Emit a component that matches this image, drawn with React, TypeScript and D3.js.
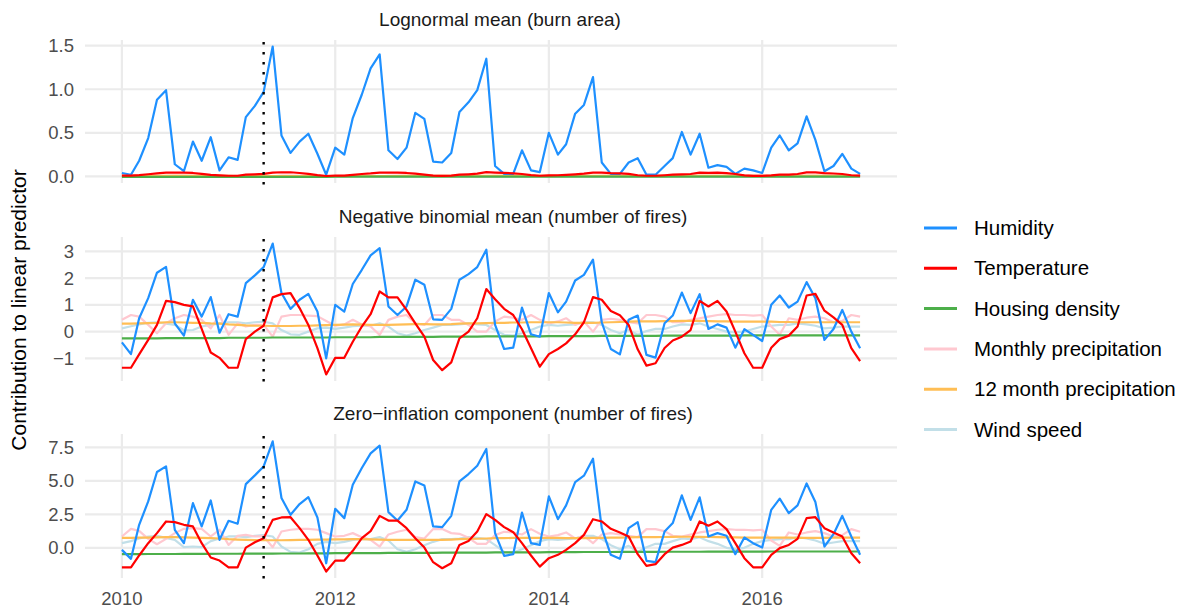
import React from "react";
import * as d3 from "d3";

const W = 1187;
const H = 608;

const START = new Date(2010, 0, 1);
const END = new Date(2017, 0, 1);
const MONTHS = d3.timeMonth.range(START, END); // 84 monthly points
const EVENT_MONTH = new Date(2011, 4, 1);
const X_TICKS = [2010, 2012, 2014, 2016];

const TITLES = [
  "Lognormal mean (burn area)",
  "Negative binomial mean (number of fires)",
  "Zero\u2212inflation component (number of fires)",
];
const Y_TITLE = "Contribution to linear predictor";
const SERIES_NAMES = [
  "Humidity",
  "Temperature",
  "Housing density",
  "Monthly precipitation",
  "12 month precipitation",
  "Wind speed",
];
const SERIES_COLORS = ["#1E90FF", "#FF0000", "#4DAF4A", "#FFC8D0", "#FFBE55", "#C2DFE8"];

// ---------- Panel 1: lognormal mean ----------
const humidityBurn = [
  0.04, 0.02, 0.18, 0.44, 0.88, 0.99, 0.14, 0.06, 0.4, 0.18, 0.45, 0.07,
  0.22, 0.19, 0.68, 0.81, 0.97, 1.49, 0.47, 0.27, 0.4, 0.49, 0.26, 0.02,
  0.33, 0.25, 0.67, 0.94, 1.24, 1.4, 0.3, 0.2, 0.33, 0.73, 0.66, 0.17,
  0.16, 0.27, 0.74, 0.85, 0.99, 1.35, 0.12, 0.03, 0.03, 0.3, 0.07, 0.05,
  0.5, 0.25, 0.37, 0.72, 0.82, 1.14, 0.16, 0.03, 0.03, 0.16, 0.21, 0.02,
  0.02, 0.12, 0.21, 0.51, 0.25, 0.49, 0.1, 0.13, 0.11, 0.03, 0.09, 0.07,
  0.04, 0.33, 0.47, 0.3, 0.38, 0.69, 0.42, 0.06, 0.12, 0.26, 0.09, 0.03,
];
const temperatureBurn = [
  0.01, 0.01, 0.015, 0.025, 0.035, 0.045, 0.045, 0.043, 0.04, 0.03, 0.018, 0.012,
  0.008, 0.008, 0.02, 0.025, 0.03, 0.045, 0.048, 0.048, 0.04, 0.03, 0.015, 0.005,
  0.01, 0.01, 0.018, 0.028, 0.035, 0.045, 0.045, 0.045, 0.04, 0.032, 0.022, 0.01,
  0.006, 0.009, 0.02, 0.025, 0.032, 0.05, 0.045, 0.04, 0.036, 0.028, 0.015, 0.008,
  0.012, 0.014, 0.018, 0.024, 0.032, 0.045, 0.044, 0.038, 0.036, 0.03, 0.014, 0.008,
  0.008, 0.014, 0.02, 0.024, 0.028, 0.044, 0.042, 0.044, 0.038, 0.028, 0.012, 0.006,
  0.006, 0.012, 0.02, 0.022, 0.028, 0.046, 0.046, 0.038, 0.034, 0.028, 0.014, 0.01,
];
const housingBurn = [
  -0.004, -0.004, -0.004, -0.004, -0.004, -0.004, -0.004, -0.004, -0.004, -0.004, -0.004, -0.004,
  -0.004, -0.004, -0.004, -0.004, -0.004, -0.004, -0.004, -0.004, -0.004, -0.004, -0.004, -0.004,
  -0.003, -0.003, -0.003, -0.003, -0.003, -0.003, -0.003, -0.003, -0.003, -0.003, -0.003, -0.003,
  -0.003, -0.003, -0.003, -0.003, -0.003, -0.003, -0.003, -0.003, -0.003, -0.003, -0.003, -0.003,
  -0.003, -0.003, -0.003, -0.003, -0.003, -0.003, -0.003, -0.003, -0.003, -0.003, -0.003, -0.003,
  -0.002, -0.002, -0.002, -0.002, -0.002, -0.002, -0.002, -0.002, -0.002, -0.002, -0.002, -0.002,
  -0.002, -0.002, -0.002, -0.002, -0.002, -0.002, -0.002, -0.002, -0.002, -0.002, -0.002, -0.002,
];
const monthlyPrecipBurn = [
  0.008, 0.011, 0.01, 0.006, 0.002, 0.006, 0.009, 0.011, 0.01, 0.008, 0.004, 0.011,
  0.001, 0.006, 0.005, 0.006, 0.006, 0.001, 0.01, 0.011, 0.011, 0.011, 0.01, 0.008,
  0.005, 0.006, 0.008, 0.006, 0.005, 0.001, 0.008, 0.01, 0.011, 0.006, 0.006, 0.011,
  0.011, 0.008, 0.008, 0.006, 0.002, 0.002, 0.007, 0.01, 0.009, 0.008, 0.011, 0.008,
  0.006, 0.007, 0.009, 0.006, 0.007, 0.002, 0.008, 0.009, 0.008, 0.007, 0.006, 0.011,
  0.011, 0.01, 0.007, 0.007, 0.008, 0.009, 0.01, 0.011, 0.011, 0.011, 0.011, 0.011,
  0.011, 0.005, 0.001, 0.009, 0.008, 0.009, 0.01, 0.009, 0.007, 0.008, 0.011, 0.01,
];
const annualPrecipBurn = [
  0.006, 0.006, 0.006, 0.006, 0.007, 0.007, 0.007, 0.007, 0.007, 0.007, 0.006, 0.006,
  0.006, 0.005, 0.005, 0.005, 0.005, 0.005, 0.005, 0.005, 0.005, 0.005, 0.005, 0.005,
  0.005, 0.005, 0.006, 0.006, 0.005, 0.005, 0.005, 0.005, 0.006, 0.006, 0.006, 0.006,
  0.006, 0.006, 0.006, 0.006, 0.006, 0.007, 0.007, 0.007, 0.007, 0.007, 0.007, 0.007,
  0.007, 0.007, 0.007, 0.007, 0.007, 0.007, 0.007, 0.007, 0.007, 0.007, 0.008, 0.008,
  0.008, 0.008, 0.008, 0.008, 0.008, 0.008, 0.008, 0.008, 0.008, 0.007, 0.007, 0.007,
  0.007, 0.007, 0.007, 0.007, 0.007, 0.007, 0.007, 0.007, 0.007, 0.007, 0.007, 0.007,
];
const windBurn = [
  0.002, 0.003, 0.004, 0.005, 0.005, 0.004, 0.004, 0.001, 0.001, 0.003, 0.004, 0.004,
  0.005, 0.005, 0.004, 0.005, 0.005, 0.004, 0.001, 0.0, 0.0, 0.0, 0.002, 0.002,
  0.002, 0.002, 0.003, 0.003, 0.003, 0.004, 0.003, 0.0, 0.0, 0.0, 0.001, 0.002,
  0.003, 0.003, 0.004, 0.004, 0.004, 0.003, 0.001, 0.0, 0.0, 0.0, 0.001, 0.003,
  0.003, 0.003, 0.003, 0.004, 0.005, 0.005, 0.003, 0.001, 0.0, 0.001, 0.0, 0.0,
  0.001, 0.001, 0.003, 0.004, 0.003, 0.004, 0.003, 0.001, 0.0, 0.0, 0.0, 0.001,
  0.003, 0.003, 0.003, 0.003, 0.004, 0.004, 0.003, 0.002, 0.002, 0.003, 0.003, 0.003,
];

// ---------- Panel 2: negative binomial mean ----------
const humidityNB = [
  -0.4, -0.84, 0.5, 1.25, 2.2, 2.42, 0.31, -0.15, 1.19, 0.56, 1.29, -0.04,
  0.65, 0.56, 1.81, 2.1, 2.41, 3.29, 1.44, 0.85, 1.19, 1.41, 0.75, -1.0,
  1.0, 0.75, 1.78, 2.31, 2.85, 3.12, 0.94, 0.62, 0.94, 1.94, 1.75, 0.46,
  0.44, 0.85, 1.94, 2.15, 2.41, 3.06, 0.25, -0.65, -0.6, 0.9, -0.1, -0.19,
  1.44, 0.72, 1.12, 1.91, 2.12, 2.69, 0.35, -0.65, -0.85, 0.44, 0.6, -0.87,
  -0.97, 0.31, 0.6, 1.46, 0.69, 1.4, 0.1, 0.27, 0.15, -0.6, 0.09, -0.12,
  -0.35, 1.0, 1.35, 0.9, 1.12, 1.85, 1.25, -0.31, 0.1, 0.81, 0.0, -0.62,
];
const temperatureNB = [
  -1.35, -1.35, -0.85, -0.31, 0.25, 1.15, 1.1, 1.0, 0.94, 0.1, -0.78, -0.98,
  -1.35, -1.35, -0.28, 0.0, 0.22, 1.28, 1.4, 1.44, 0.88, 0.25, -0.62, -1.6,
  -0.98, -0.98, -0.38, 0.19, 0.65, 1.5, 1.28, 1.28, 0.81, 0.31, -0.19, -1.06,
  -1.44, -1.15, -0.25, 0.0, 0.5, 1.59, 1.21, 0.85, 0.62, 0.09, -0.62, -1.31,
  -0.84, -0.65, -0.44, -0.1, 0.35, 1.29, 1.19, 0.77, 0.61, 0.25, -0.66, -1.27,
  -1.18, -0.61, -0.33, -0.19, 0.06, 1.15, 0.94, 1.15, 0.75, 0.0, -0.81, -1.35,
  -1.35, -0.6, -0.28, -0.15, 0.19, 1.35, 1.41, 0.78, 0.53, 0.25, -0.62, -1.1,
];
const housingNB = [
  -0.25, -0.25, -0.25, -0.25, -0.25, -0.24, -0.24, -0.24, -0.24, -0.24, -0.24, -0.24,
  -0.23, -0.23, -0.23, -0.23, -0.23, -0.22, -0.22, -0.22, -0.22, -0.22, -0.22, -0.22,
  -0.21, -0.21, -0.21, -0.21, -0.21, -0.2, -0.2, -0.2, -0.2, -0.2, -0.2, -0.2,
  -0.19, -0.19, -0.19, -0.19, -0.19, -0.18, -0.18, -0.18, -0.18, -0.18, -0.18, -0.18,
  -0.17, -0.17, -0.17, -0.17, -0.17, -0.17, -0.16, -0.16, -0.16, -0.16, -0.16, -0.16,
  -0.16, -0.15, -0.15, -0.15, -0.15, -0.15, -0.15, -0.15, -0.15, -0.15, -0.14, -0.14,
  -0.14, -0.14, -0.14, -0.14, -0.14, -0.14, -0.14, -0.14, -0.14, -0.14, -0.14, -0.14,
];
const monthlyPrecipNB = [
  0.44, 0.62, 0.56, 0.25, -0.06, 0.31, 0.5, 0.62, 0.56, 0.44, 0.12, 0.62,
  -0.12, 0.31, 0.19, 0.25, 0.25, -0.19, 0.56, 0.62, 0.62, 0.6, 0.58, 0.4,
  0.22, 0.27, 0.44, 0.27, 0.19, -0.12, 0.44, 0.56, 0.62, 0.31, 0.25, 0.62,
  0.62, 0.44, 0.44, 0.25, 0.0, 0.0, 0.38, 0.56, 0.52, 0.44, 0.62, 0.44,
  0.31, 0.38, 0.5, 0.25, 0.38, 0.0, 0.44, 0.48, 0.44, 0.35, 0.31, 0.62,
  0.62, 0.56, 0.35, 0.35, 0.44, 0.5, 0.56, 0.62, 0.65, 0.62, 0.62, 0.6,
  0.62, 0.19, -0.12, 0.5, 0.44, 0.52, 0.56, 0.5, 0.35, 0.4, 0.62, 0.56,
];
const annualPrecipNB = [
  0.3, 0.3, 0.31, 0.32, 0.33, 0.35, 0.35, 0.34, 0.33, 0.33, 0.31, 0.3,
  0.27, 0.25, 0.23, 0.22, 0.22, 0.21, 0.21, 0.21, 0.22, 0.22, 0.23, 0.24,
  0.25, 0.26, 0.27, 0.26, 0.25, 0.25, 0.25, 0.26, 0.27, 0.28, 0.28, 0.27,
  0.27, 0.28, 0.3, 0.31, 0.31, 0.32, 0.33, 0.33, 0.34, 0.34, 0.35, 0.35,
  0.35, 0.35, 0.34, 0.33, 0.33, 0.33, 0.34, 0.35, 0.36, 0.37, 0.38, 0.38,
  0.38, 0.39, 0.39, 0.4, 0.4, 0.4, 0.39, 0.38, 0.38, 0.37, 0.37, 0.37,
  0.37, 0.37, 0.36, 0.36, 0.35, 0.35, 0.35, 0.35, 0.35, 0.35, 0.35, 0.35,
];
const windNB = [
  0.12, 0.2, 0.27, 0.33, 0.35, 0.3, 0.25, 0.05, 0.06, 0.19, 0.25, 0.31,
  0.35, 0.35, 0.31, 0.35, 0.37, 0.31, 0.06, -0.1, -0.12, 0.0, 0.12, 0.15,
  0.1, 0.15, 0.2, 0.22, 0.22, 0.31, 0.19, -0.06, -0.15, -0.06, 0.06, 0.15,
  0.25, 0.25, 0.27, 0.31, 0.27, 0.25, 0.06, -0.12, -0.15, -0.06, 0.06, 0.19,
  0.25, 0.22, 0.25, 0.27, 0.35, 0.35, 0.25, 0.06, -0.06, 0.06, -0.12, 0.02,
  0.1, 0.1, 0.19, 0.27, 0.25, 0.31, 0.19, 0.1, 0.0, -0.03, 0.0, 0.1,
  0.19, 0.22, 0.25, 0.25, 0.31, 0.27, 0.22, 0.12, 0.15, 0.19, 0.19, 0.19,
];

// ---------- Panel 3: zero-inflation component ----------
const humidityZI = [
  -0.15, -0.82, 1.72, 3.47, 5.66, 6.08, 1.35, 0.35, 3.34, 1.6, 3.54, 0.6,
  2.02, 1.8, 4.76, 5.41, 6.08, 7.95, 3.72, 2.47, 3.27, 3.79, 2.27, -1.15,
  2.92, 2.22, 4.71, 5.96, 7.05, 7.63, 2.67, 2.04, 2.84, 4.96, 4.66, 1.6,
  1.55, 2.39, 4.96, 5.51, 6.13, 7.38, 1.1, -0.6, -0.47, 2.64, 0.35, 0.22,
  3.84, 2.14, 3.17, 4.91, 5.39, 6.66, 1.47, -0.52, -0.82, 1.47, 1.92, -0.97,
  -1.07, 1.22, 1.85, 3.92, 2.09, 3.77, 0.85, 1.1, 0.9, -0.47, 0.77, 0.35,
  0.02, 2.84, 3.67, 2.59, 3.17, 4.81, 3.42, 0.1, 1.02, 2.39, 0.85, -0.52,
];
const temperatureZI = [
  -1.45, -1.45, -0.57, 0.35, 1.1, 1.97, 1.92, 1.72, 1.6, 0.35, -0.72, -0.95,
  -1.45, -1.45, 0.02, 0.42, 0.72, 2.09, 2.27, 2.29, 1.47, 0.6, -0.57, -1.77,
  -0.95, -0.95, -0.22, 0.72, 1.25, 2.39, 2.04, 2.04, 1.47, 0.72, 0.02, -1.07,
  -1.52, -1.15, 0.22, 0.52, 1.22, 2.52, 2.09, 1.55, 1.17, 0.35, -0.57, -1.4,
  -0.77, -0.52, -0.15, 0.35, 0.97, 2.14, 1.97, 1.42, 1.15, 0.85, -0.47, -1.35,
  -1.22, -0.47, 0.02, 0.22, 0.47, 1.97, 1.65, 1.97, 1.4, 0.35, -0.77, -1.45,
  -1.45, -0.52, -0.02, 0.22, 0.67, 2.22, 2.29, 1.47, 1.15, 0.85, -0.4, -1.15,
];
const housingZI = [
  -0.47, -0.47, -0.47, -0.46, -0.46, -0.46, -0.46, -0.45, -0.45, -0.45, -0.45, -0.44,
  -0.44, -0.44, -0.43, -0.43, -0.43, -0.43, -0.42, -0.42, -0.42, -0.41, -0.41, -0.41,
  -0.4, -0.4, -0.4, -0.39, -0.39, -0.39, -0.38, -0.38, -0.38, -0.37, -0.37, -0.37,
  -0.36, -0.36, -0.36, -0.35, -0.35, -0.35, -0.34, -0.34, -0.34, -0.33, -0.33, -0.33,
  -0.32, -0.32, -0.32, -0.32, -0.31, -0.31, -0.31, -0.31, -0.3, -0.3, -0.3, -0.3,
  -0.3, -0.29, -0.29, -0.29, -0.29, -0.29, -0.28, -0.28, -0.28, -0.28, -0.28, -0.28,
  -0.28, -0.27, -0.27, -0.27, -0.27, -0.27, -0.27, -0.27, -0.27, -0.27, -0.27, -0.27,
];
const monthlyPrecipZI = [
  0.85, 1.42, 1.27, 0.67, 0.27, 0.67, 1.1, 1.42, 1.47, 1.42, 0.85, 1.35,
  0.22, 0.9, 0.97, 0.85, 0.85, 0.05, 1.22, 1.35, 1.42, 1.42, 1.35, 1.1,
  0.85, 0.9, 1.1, 0.8, 0.6, 0.1, 1.0, 1.2, 1.35, 0.8, 0.7, 1.4,
  1.4, 1.1, 1.05, 0.75, 0.3, 0.3, 0.95, 1.2, 1.15, 1.0, 1.4, 1.05,
  0.85, 0.95, 1.15, 0.7, 0.9, 0.35, 1.0, 1.1, 1.0, 0.9, 0.8, 1.4,
  1.4, 1.25, 0.9, 0.85, 1.0, 1.15, 1.25, 1.35, 1.4, 1.35, 1.35, 1.3,
  1.35, 0.55, 0.15, 1.15, 1.0, 1.15, 1.25, 1.1, 0.85, 0.95, 1.4, 1.2,
];
const annualPrecipZI = [
  0.75, 0.75, 0.76, 0.77, 0.78, 0.8, 0.8, 0.78, 0.76, 0.75, 0.73, 0.7,
  0.65, 0.62, 0.6, 0.58, 0.57, 0.57, 0.57, 0.58, 0.6, 0.6, 0.62, 0.62,
  0.63, 0.64, 0.65, 0.65, 0.63, 0.62, 0.6, 0.6, 0.6, 0.6, 0.6, 0.6,
  0.6, 0.62, 0.65, 0.67, 0.68, 0.7, 0.72, 0.73, 0.74, 0.74, 0.75, 0.75,
  0.75, 0.74, 0.73, 0.73, 0.73, 0.74, 0.75, 0.76, 0.77, 0.78, 0.8, 0.8,
  0.8, 0.81, 0.82, 0.83, 0.83, 0.82, 0.81, 0.8, 0.79, 0.78, 0.77, 0.77,
  0.77, 0.77, 0.76, 0.76, 0.75, 0.75, 0.75, 0.75, 0.76, 0.76, 0.77, 0.77,
];
const windZI = [
  0.35, 0.5, 0.7, 0.85, 0.9, 0.75, 0.6, 0.05, 0.1, 0.05, 0.5, 0.7,
  0.85, 0.85, 0.8, 0.9, 0.95, 0.85, 0.1, -0.3, -0.35, -0.1, 0.3, 0.45,
  0.35, 0.45, 0.6, 0.65, 0.65, 0.8, 0.55, -0.1, -0.3, -0.1, 0.2, 0.45,
  0.65, 0.65, 0.7, 0.8, 0.75, 0.65, 0.2, -0.3, -0.35, -0.1, 0.2, 0.5,
  0.65, 0.6, 0.65, 0.7, 0.9, 0.9, 0.65, 0.2, -0.1, 0.15, -0.3, 0.05,
  0.3, 0.3, 0.5, 0.7, 0.65, 0.8, 0.5, 0.3, 0.0, -0.1, 0.0, 0.3,
  0.5, 0.6, 0.65, 0.65, 0.8, 0.7, 0.55, 0.3, 0.4, 0.5, 0.5, 0.5,
];

const Y_TICKS_BURN = [0, 0.5, 1, 1.5];
const Y_TICKS_NB = [-1, 0, 1, 2, 3];
const Y_TICKS_ZI = [0, 2.5, 5, 7.5];

// Layout
const PLOT_LEFT = 85;
const PLOT_RIGHT = 897;
const FONT = "'Liberation Sans', Arial, Helvetica, sans-serif";

const panels = [
  {
    title: TITLES[0],
    titleX: 500,
    top: 40,
    bottom: 183,
    domain: [-0.075, 1.565],
    ticks: Y_TICKS_BURN,
    fmt: d3.format(".1f"),
    series: [windBurn, monthlyPrecipBurn, annualPrecipBurn, housingBurn, humidityBurn, temperatureBurn],
  },
  {
    title: TITLES[1],
    titleX: 513,
    top: 237,
    bottom: 381,
    domain: [-1.845, 3.535],
    ticks: Y_TICKS_NB,
    fmt: d3.format("d"),
    series: [windNB, monthlyPrecipNB, annualPrecipNB, housingNB, humidityNB, temperatureNB],
  },
  {
    title: TITLES[2],
    titleX: 513,
    top: 434,
    bottom: 578,
    domain: [-2.25, 8.5],
    ticks: Y_TICKS_ZI,
    fmt: d3.format(".1f"),
    series: [windZI, monthlyPrecipZI, annualPrecipZI, housingZI, humidityZI, temperatureZI],
  },
];
// drawing order index -> series name index
const DRAW_ORDER = [5, 3, 4, 2, 0, 1];

export default function App() {
  const t0 = MONTHS[0].getTime();
  const t1 = MONTHS[MONTHS.length - 1].getTime();
  const pad = (t1 - t0) * 0.05;
  const x = d3
    .scaleTime()
    .domain([new Date(t0 - pad), new Date(t1 + pad)])
    .range([PLOT_LEFT, PLOT_RIGHT]);

  return (
    <svg width={W} height={H} style={{ display: "block", position: "absolute", left: 0, top: 0, background: "#fff" }}>
      <rect width={W} height={H} fill="#fff" />
      {panels.map((p, pi) => {
        const y = d3.scaleLinear().domain(p.domain).range([p.bottom, p.top]);
        const line = d3
          .line<number>()
          .x((_, i) => x(MONTHS[i]))
          .y((v) => y(v));
        return (
          <g key={pi}>
            <text
              x={p.titleX}
              y={p.top - 14}
              textAnchor="middle"
              fontFamily={FONT}
              fontSize={19}
              fill="#1a1a1a"
            >
              {p.title}
            </text>
            {p.ticks.map((t) => (
              <line key={"h" + t} x1={PLOT_LEFT} x2={PLOT_RIGHT} y1={y(t)} y2={y(t)} stroke="#EBEBEB" strokeWidth={2.2} />
            ))}
            {X_TICKS.map((yr) => {
              const xx = x(new Date(yr, 0, 1));
              return <line key={"v" + yr} x1={xx} x2={xx} y1={p.top} y2={p.bottom} stroke="#EBEBEB" strokeWidth={2.2} />;
            })}
            {p.ticks.map((t) => (
              <text
                key={"l" + t}
                x={74}
                y={y(t)}
                dy="0.35em"
                textAnchor="end"
                fontFamily={FONT}
                fontSize={18.5}
                fill="#4D4D4D"
              >
                {p.fmt(t)}
              </text>
            ))}
            {DRAW_ORDER.map((si) => (
              <path
                key={"s" + si}
                d={line(p.series[DRAW_ORDER.indexOf(si)]) || ""}
                fill="none"
                stroke={SERIES_COLORS[si]}
                strokeWidth={2.2}
                strokeLinejoin="round"
              />
            ))}
            <line
              x1={x(EVENT_MONTH)}
              x2={x(EVENT_MONTH)}
              y1={p.top + 2}
              y2={p.bottom + 2}
              stroke="#000"
              strokeWidth={2.4}
              strokeDasharray="2.4,7.6"
            />
          </g>
        );
      })}
      {X_TICKS.map((yr) => (
        <text
          key={"xt" + yr}
          x={x(new Date(yr, 0, 1))}
          y={605}
          textAnchor="middle"
          fontFamily={FONT}
          fontSize={18.5}
          fill="#4D4D4D"
        >
          {yr}
        </text>
      ))}
      <text
        transform={`translate(26,310) rotate(-90)`}
        textAnchor="middle"
        fontFamily={FONT}
        fontSize={21}
        fill="#000"
      >
        {Y_TITLE}
      </text>
      {SERIES_NAMES.map((name, i) => {
        const yy = 228 + i * 40.3;
        return (
          <g key={name}>
            <line x1={924} x2={957} y1={yy} y2={yy} stroke={SERIES_COLORS[i]} strokeWidth={3} />
            <text x={974} y={yy} dy="0.35em" fontFamily={FONT} fontSize={20.5} fill="#000">
              {name}
            </text>
          </g>
        );
      })}
    </svg>
  );
}
